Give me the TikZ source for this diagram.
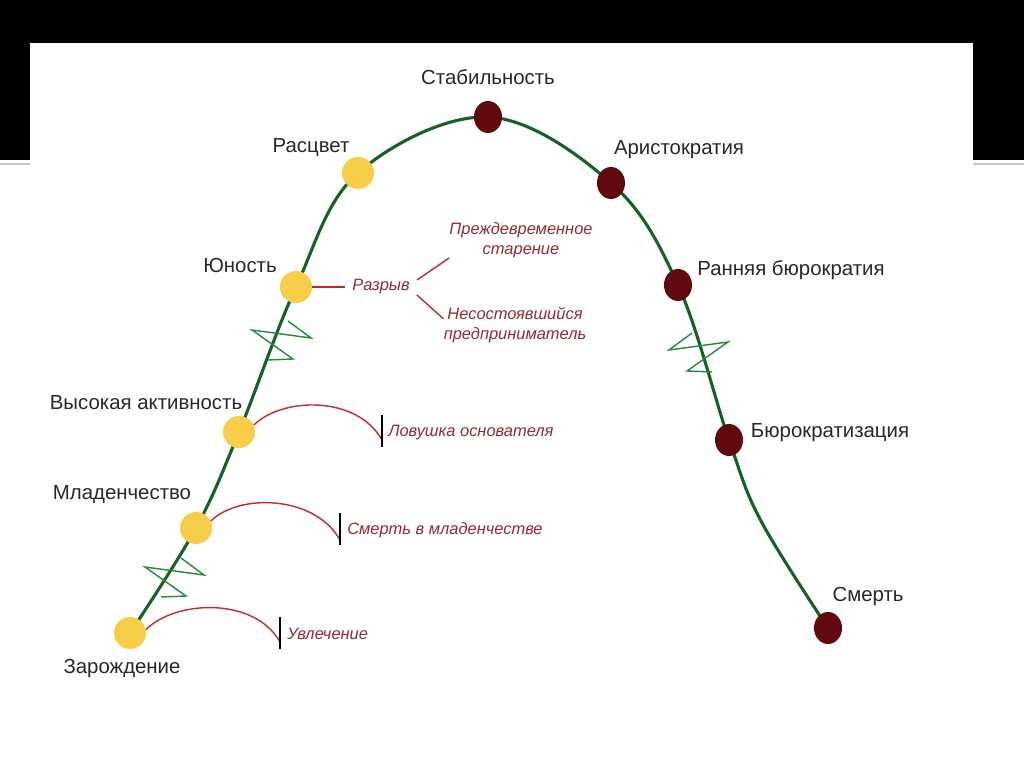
\documentclass[tikz,border=0pt]{standalone}
\usepackage{fontspec}
\setmainfont{Liberation Sans}
\usetikzlibrary{shapes.geometric, positioning, calc}
\definecolor{mygreen}{RGB}{20,98,38}
\definecolor{mybreak}{RGB}{34,140,60}
\definecolor{myyellow}{RGB}{246,206,72}
\definecolor{mydarkred}{RGB}{96,10,16}
\definecolor{myred}{RGB}{190,45,45}
\definecolor{mytrap}{RGB}{150,42,52}
\definecolor{mytext}{RGB}{40,40,40}
\tikzset{
  growdot/.style={circle, fill=myyellow, minimum size=0.8cm, inner sep=0pt},
  agedot/.style={ellipse, fill=mydarkred, minimum width=0.7cm, minimum height=0.8cm, inner sep=0pt},
  stage/.style={font=\fontsize{14.5}{17}\selectfont, text=mytext, inner sep=0pt},
  trap/.style={font=\fontsize{11.7}{14.4}\selectfont\itshape, text=mytrap, inner sep=0pt, align=center},
  lifecurve/.style={line width=2.2pt, color=mygreen},
  trapline/.style={line width=1pt, color=myred},
  tick/.style={line width=1.1pt, color=black},
  breakmark/.style={line width=1pt, color=mybreak, line join=miter}
}
\begin{document}
\begin{tikzpicture}[x=0.025cm, y=-0.025cm]
  \useasboundingbox (0,0) rectangle (1024,767);
  % slide background
  \fill[black] (0,0) rectangle (1024,160);
  \draw[gray!45, line width=1.4pt] (0,164) -- (1024,164);
  \fill[white] (30,43) rectangle (973,767);

  % stage positions along the life curve
  \coordinate (pBirth) at (130,633);
  \coordinate (pInfancy) at (196,528);
  \coordinate (pActive) at (239,432);
  \coordinate (pYouth) at (296,287);
  \coordinate (pPrime) at (358,173);
  \coordinate (pStable) at (488,117);
  \coordinate (pAristo) at (611,183);
  \coordinate (pEarly) at (678,285);
  \coordinate (pBureau) at (729,440);
  \coordinate (pLate) at (761,521);
  \coordinate (pDeath) at (828,628);

  % the life curve
  \draw[lifecurve] plot[smooth, tension=0.6] coordinates {(pBirth) (pInfancy) (pActive) (pYouth) (pPrime) (pStable) (pAristo) (pEarly) (pBureau) (pLate) (pDeath)};

  % break marks on the curve
  \draw[breakmark, shift={(282,340)}] (6,-19) -- (29,-2) -- (-30,-10) -- (11,19) -- (-14,20);
  \draw[breakmark, shift={(175,577)}] (6,-19) -- (29,-2) -- (-30,-10) -- (11,19) -- (-14,20);
  \draw[breakmark, shift={(698,352)}] (-6,-19) -- (-29,-2) -- (30,-10) -- (-11,19) -- (14,20);

  % growing stages (yellow)
  \node[growdot] (birth) at (pBirth) {};
  \node[growdot] (infancy) at (pInfancy) {};
  \node[growdot] (active) at (pActive) {};
  \node[growdot] (youth) at (pYouth) {};
  \node[growdot] (prime) at (pPrime) {};
  % ageing stages (dark red)
  \node[agedot] (stable) at (pStable) {};
  \node[agedot] (aristo) at (pAristo) {};
  \node[agedot] (early) at (pEarly) {};
  \node[agedot] (bureau) at (pBureau) {};
  \node[agedot] (death) at (pDeath) {};

  % stage labels
  \node[stage] (lBirth) at (122,668) {Зарождение};
  \node[stage] (lInfancy) at (122,495) {Младенчество};
  \node[stage] (lActive) at (146,403) {Высокая активность};
  \node[stage] (lYouth) at (240,265) {Юность};
  \node[stage] (lPrime) at (311,148) {Расцвет};
  \node[stage] (lStable) at (488,77) {Стабильность};
  \node[stage] (lAristo) at (679,150) {Аристократия};
  \node[stage] (lEarly) at (791,270) {Ранняя бюрократия};
  \node[stage] (lBureau) at (830,433) {Бюрократизация};
  \node[stage] (lDeath) at (868,596) {Смерть};

  % traps on the way up
  \coordinate (eHobby) at (280,642);
  \coordinate (eInfant) at (340,540);
  \coordinate (eFounder) at (382,440);
  \draw[trapline] (birth.12) .. controls +(30,-30) and +(-25,-45) .. (eHobby);
  \draw[trapline] (infancy.25) .. controls +(28,-28) and +(-25,-45) .. (eInfant);
  \draw[trapline] (active.25) .. controls +(28,-28) and +(-25,-45) .. (eFounder);
  \draw[tick] (eHobby) ++(0,-25) -- ++(0,32);
  \draw[tick] (eInfant) ++(0,-27) -- ++(0,32);
  \draw[tick] (eFounder) ++(0,-25) -- ++(0,32);
  \node[trap, anchor=west] (tHobby) at (287,634) {Увлечение};
  \node[trap, anchor=west] (tInfant) at (347,530) {Смерть в младенчестве};
  \node[trap, anchor=west] (tFounder) at (388,433) {Ловушка основателя};

  % gap at youth
  \node[trap, inner sep=5pt] (tGap) at (381,287) {Разрыв};
  \draw[trapline] (youth) -- (tGap);
  \node[trap] (tPremature) at (521,240) {Преждевременное\\старение};
  \node[trap] (tFailed) at (515,325) {Несостоявшийся\\предприниматель};
  \draw[trapline] ($(tGap.east)+(0,-7)$) -- (tPremature.south west);
  \draw[trapline] ($(tGap.east)+(0,8)$) -- ($(tFailed.north west)+(0,12)$);
\end{tikzpicture}
\end{document}
